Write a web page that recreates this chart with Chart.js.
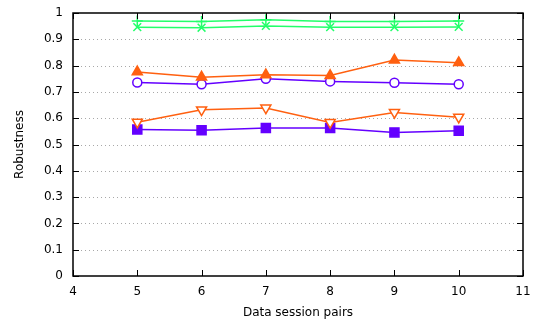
<!DOCTYPE html>
<html>
<head>
<meta charset="utf-8">
<script src="https://cdn.jsdelivr.net/npm/chart.js@4/dist/chart.umd.min.js"></script>
<style>
  html, body { margin: 0; padding: 0; background: #fff; }
  #wrap { width: 540px; height: 320px; }
</style>
</head>
<body>
<div id="wrap"><canvas id="grafico"></canvas></div>
<script>
// pares de sesiones (eje x)
const pares = [5, 6, 7, 8, 9, 10];

// robustez de cada serie
const verdeMas   = [0.970, 0.968, 0.974, 0.968, 0.968, 0.970];
const verdeX     = [0.946, 0.944, 0.951, 0.946, 0.946, 0.947];
const naranjaTri = [0.776, 0.756, 0.765, 0.762, 0.821, 0.811];
const moradoCirc = [0.736, 0.729, 0.750, 0.740, 0.735, 0.729];
const naranjaInv = [0.585, 0.632, 0.639, 0.584, 0.622, 0.604];
const moradoCuad = [0.557, 0.554, 0.563, 0.563, 0.546, 0.552];

const VERDE = '#22ff6a';
const NARANJA = '#ff6010';
const MORADO = '#6400ff';

function serie(valores, color, estilo, radio, relleno, rotacion) {
    return {
        data: pares.map((x, i) => ({ x: x, y: valores[i] })),
        borderColor: color,
        backgroundColor: color,
        borderWidth: 1.5,
        pointStyle: estilo,
        pointRadius: radio,
        pointBorderColor: color,
        pointBackgroundColor: relleno,
        pointBorderWidth: 1.5,
        pointRotation: rotacion || 0,
        showLine: true,
        tension: 0
    };
}

// rejilla punteada, marco negro y marcas de escala hacia dentro, estilo gnuplot
const marco = {
    id: 'marco',
    beforeDatasetsDraw(chart) {
        const { ctx, chartArea: a, scales } = chart;
        ctx.save();
        ctx.strokeStyle = '#a8a8a8';
        ctx.lineWidth = 1;
        ctx.setLineDash([1, 3]);
        ctx.beginPath();
        scales.y.ticks.forEach(t => {
            if (t.value <= 0 || t.value >= 1) return;
            const y = Math.round(scales.y.getPixelForValue(t.value)) + 0.5;
            ctx.moveTo(a.left, y); ctx.lineTo(a.right, y);
        });
        ctx.stroke();
        ctx.restore();
    },
    afterDatasetsDraw(chart) {
        const { ctx, chartArea: a, scales } = chart;
        ctx.save();
        ctx.strokeStyle = '#000';
        ctx.lineWidth = 1;
        ctx.beginPath();
        scales.y.ticks.forEach(t => {
            const y = Math.round(scales.y.getPixelForValue(t.value)) + 0.5;
            ctx.moveTo(a.left, y); ctx.lineTo(a.left + 6, y);
            ctx.moveTo(a.right, y); ctx.lineTo(a.right - 6, y);
        });
        scales.x.ticks.forEach(t => {
            const x = Math.round(scales.x.getPixelForValue(t.value)) + 0.5;
            ctx.moveTo(x, a.bottom); ctx.lineTo(x, a.bottom - 6);
            ctx.moveTo(x, a.top); ctx.lineTo(x, a.top + 6);
        });
        ctx.stroke();
        ctx.lineWidth = 1.5;
        ctx.strokeRect(a.left, a.top, a.right - a.left, a.bottom - a.top);
        ctx.restore();
    }
};

Chart.defaults.font.family = '"DejaVu Sans", sans-serif';
Chart.defaults.font.size = 12;
Chart.defaults.color = '#000';

new Chart(document.getElementById('grafico'), {
    type: 'scatter',
    data: {
        datasets: [
            serie(verdeMas, VERDE, 'cross', 5.5, VERDE),
            serie(verdeX, VERDE, 'crossRot', 5.5, VERDE),
            serie(naranjaTri, NARANJA, 'triangle', 5.8, NARANJA),
            serie(moradoCirc, MORADO, 'circle', 4.5, '#fff'),
            serie(naranjaInv, NARANJA, 'triangle', 5.8, '#fff', 180),
            serie(moradoCuad, MORADO, 'rect', 6.4, MORADO)
        ]
    },
    options: {
        responsive: true,
        maintainAspectRatio: false,
        animation: false,
        layout: { padding: { top: 13, right: 17, left: 13, bottom: 0 } },
        plugins: { legend: { display: false }, tooltip: { enabled: false } },
        scales: {
            x: {
                type: 'linear',
                min: 4, max: 11,
                ticks: { stepSize: 1, padding: 9 },
                grid: { display: false, drawTicks: false },
                border: { display: false },
                title: { display: true, text: 'Data session pairs', padding: { top: 1, bottom: 0 } },
                afterFit(scale) { scale.height = 44; scale.paddingLeft = 0; scale.paddingRight = 0; }
            },
            y: {
                type: 'linear',
                min: 0, max: 1,
                ticks: { stepSize: 0.1, padding: 10, callback: v => +v.toFixed(1) },
                grid: { display: false, drawTicks: false },
                border: { display: false },
                title: { display: true, text: 'Robustness', padding: { top: 0, bottom: 4 } },
                afterFit(scale) { scale.width = 60; scale.paddingTop = 0; scale.paddingBottom = 0; }
            }
        }
    },
    plugins: [marco]
});
</script>
</body>
</html>
